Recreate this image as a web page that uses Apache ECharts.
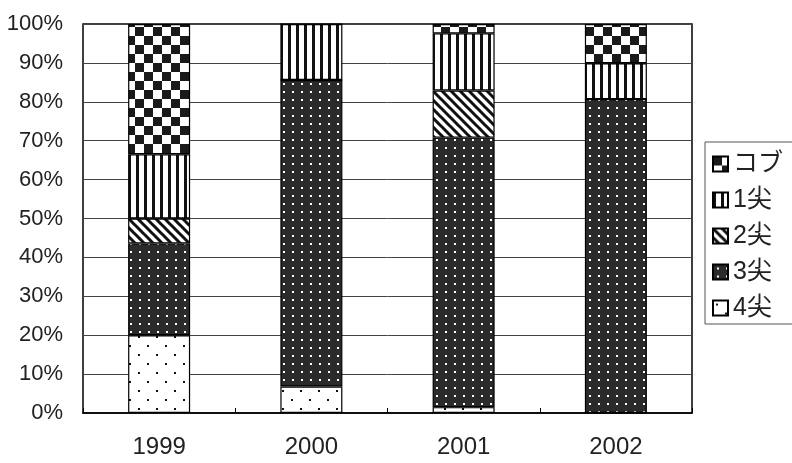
<!DOCTYPE html>
<html>
<head>
<meta charset="utf-8">
<script src="https://cdn.jsdelivr.net/npm/echarts@6/dist/echarts.min.js"></script>
<style>
  html, body { margin: 0; padding: 0; background: #fff; }
  #chart { width: 792px; height: 463px; }
</style>
</head>
<body>
<div id="chart"></div>
<script>
// 年ごとの割合 (%)
var years = ['1999', '2000', '2001', '2002'];
var yon4 = [20.0, 6.8, 1.5, 0];
var san3 = [23.6, 78.8, 69.3, 80.7];
var ni2 = [6.4, 0, 12.1, 0];
var ichi1 = [16.5, 14.4, 14.7, 9.2];
var kobu = [33.5, 0, 2.4, 10.1];
var yTicks = [0, 10, 20, 30, 40, 50, 60, 70, 80, 90, 100];

// hatch patterns like the old Excel fills
function tile(w, h, draw) {
    var c = document.createElement('canvas');
    c.width = w; c.height = h;
    var ctx = c.getContext('2d');
    draw(ctx);
    return { image: c, repeat: 'repeat' };
}
var patChecker = tile(18, 18, function (ctx) {
    ctx.fillStyle = '#fff'; ctx.fillRect(0, 0, 18, 18);
    ctx.fillStyle = '#1a1a1a';
    ctx.fillRect(0, 0, 9, 9); ctx.fillRect(9, 9, 9, 9);
});
var patVert = tile(8, 8, function (ctx) {
    ctx.fillStyle = '#fff'; ctx.fillRect(0, 0, 8, 8);
    ctx.fillStyle = '#111'; ctx.fillRect(0, 0, 3, 8);
});
var patDiag = tile(9, 9, function (ctx) {
    ctx.fillStyle = '#fff'; ctx.fillRect(0, 0, 9, 9);
    ctx.strokeStyle = '#111'; ctx.lineWidth = 3;
    ctx.beginPath();
    ctx.moveTo(-9, -9); ctx.lineTo(18, 18);
    ctx.moveTo(-9, 0); ctx.lineTo(9, 18);
    ctx.moveTo(0, -9); ctx.lineTo(18, 9);
    ctx.stroke();
});
var patDarkDots = tile(9, 8, function (ctx) {
    ctx.fillStyle = '#2b2b2b'; ctx.fillRect(0, 0, 9, 8);
    ctx.fillStyle = '#fff'; ctx.fillRect(4, 3, 2, 2);
});
var patLightDots = tile(18, 18, function (ctx) {
    ctx.fillStyle = '#fff'; ctx.fillRect(0, 0, 18, 18);
    ctx.fillStyle = '#111';
    ctx.fillRect(3, 3, 2, 2); ctx.fillRect(12, 12, 2, 2);
});

function mkSeries(name, data, pat) {
    return {
        name: name,
        type: 'bar',
        stack: 'all',
        barWidth: 62,
        data: data,
        itemStyle: { color: pat, borderColor: '#000', borderWidth: 1.2 }
    };
}

var myChart = echarts.init(document.getElementById('chart'));
myChart.setOption({
    animation: false,
    backgroundColor: '#fff',
    textStyle: { fontFamily: 'Liberation Sans, Noto Sans CJK JP, sans-serif' },
    grid: {
        left: 83, right: 100, top: 24, bottom: 50,
        show: true, borderColor: '#000', borderWidth: 1.5
    },
    legend: {
        orient: 'vertical',
        left: 705, top: 142,
        data: ['コブ', '1尖', '2尖', '3尖', '4尖'],
        itemWidth: 15, itemHeight: 15, itemGap: 10,
        padding: [9, 14, 3, 7],
        borderColor: '#555', borderWidth: 1,
        textStyle: { fontSize: 25, lineHeight: 26, color: '#222' },
        icon: 'rect',
        selectedMode: false
    },
    xAxis: {
        type: 'category',
        data: years,
        axisLine: { lineStyle: { color: '#000', width: 1.5 } },
        axisTick: { show: true, inside: true, length: 5, lineStyle: { color: '#000' } },
        axisLabel: { fontSize: 24, color: '#222', margin: 22 }
    },
    yAxis: {
        type: 'value',
        min: 0, max: 100, interval: 10,
        axisLine: { show: false },
        axisTick: { show: false },
        axisLabel: {
            fontSize: 22, color: '#222', margin: 20,
            formatter: function (v) { return yTicks.indexOf(v) >= 0 ? v + '%' : ''; }
        },
        splitLine: { lineStyle: { color: '#444', width: 1 } }
    },
    series: [
        mkSeries('4尖', yon4, patLightDots),
        mkSeries('3尖', san3, patDarkDots),
        mkSeries('2尖', ni2, patDiag),
        mkSeries('1尖', ichi1, patVert),
        mkSeries('コブ', kobu, patChecker)
    ]
});
</script>
</body>
</html>
